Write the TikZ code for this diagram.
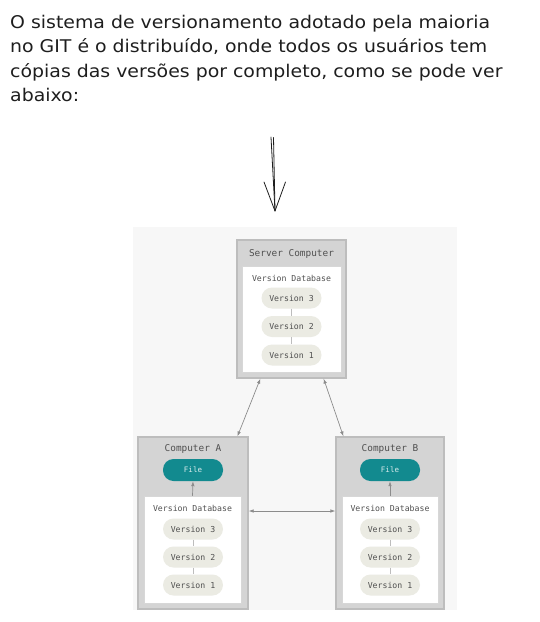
\documentclass[tikz,border=0pt]{standalone}
\usepackage{fontspec}
\setmonofont{DejaVu Sans Mono}
\newfontfamily\hand[FakeStretch=1.08]{DejaVu Sans}
\usetikzlibrary{arrows.meta,calc}
\definecolor{ink}{HTML}{1E1E1E}
\definecolor{panelbg}{HTML}{F7F7F7}
\definecolor{boxfill}{HTML}{D4D4D4}
\definecolor{boxline}{HTML}{BDBDBD}
\definecolor{pillfill}{HTML}{EBEBE3}
\definecolor{gtext}{HTML}{505050}
\definecolor{teal}{HTML}{128A8F}
\definecolor{conncol}{HTML}{8C8C8C}
\tikzset{
  handtext/.style={font=\hand\fontsize{17.5}{24}\selectfont, text=ink, anchor=base west, inner sep=0pt},
  outerbox/.style={draw=boxline, fill=boxfill, line width=1.2pt, inner sep=0pt},
  innerbox/.style={draw=boxline!60, fill=white, line width=0.5pt, inner sep=0pt, minimum width=97pt, minimum height=107pt},
  boxtitle/.style={font=\ttfamily\fontsize{9.4}{10}\selectfont, text=gtext, inner sep=0pt},
  dbtitle/.style={font=\ttfamily\fontsize{8.2}{9}\selectfont, text=gtext, inner sep=0pt},
  pill/.style={fill=pillfill, rounded corners=10.5pt, minimum width=60pt, minimum height=21pt, inner sep=0pt, font=\ttfamily\fontsize{8.2}{9}\selectfont, text=gtext},
  filepill/.style={fill=teal, rounded corners=10.5pt, minimum width=60pt, minimum height=22pt, inner sep=0pt, font=\ttfamily\fontsize{7.5}{9}\selectfont, text=white!85!teal},
  vlink/.style={draw=boxline, line width=0.6pt},
  conn/.style={draw=conncol, line width=0.7pt, {Latex[length=5pt,width=3.5pt]}-{Latex[length=5pt,width=3.5pt]}},
  conn1/.style={draw=conncol, line width=0.7pt, -{Latex[length=5pt,width=3.5pt]}},
  sketch/.style={draw=ink, line width=0.8pt, line cap=round, line join=round}
}
\begin{document}
\begin{tikzpicture}[x=1pt,y=-1pt]
\useasboundingbox (0,0) rectangle (539,622);
\fill[white] (0,0) rectangle (539,622);
% text
\node[handtext] (t1) at (10,28) {O sistema de versionamento adotado pela maioria};
\node[handtext] (t2) at (10,52.5) {no GIT é o distribuído, onde todos os usuários tem};
\node[handtext] (t3) at (10,77) {cópias das versões por completo, como se pode ver};
\node[handtext] (t4) at (10,101.5) {abaixo:};
% sketch arrow
\coordinate (aT1) at (271,137);
\coordinate (aT2) at (273.5,137.5);
\coordinate (aTip) at (275,211);
\coordinate (aL) at (264,182);
\coordinate (aR) at (285.5,182);
\draw[sketch] (aT1) -- (aTip);
\draw[sketch] (aT2) -- (aTip);
\draw[sketch] (aL) -- (aTip) -- (aR);
% panel
\node[fill=panelbg, minimum width=324pt, minimum height=383pt, inner sep=0pt] (panel) at (295,418.5) {};
% server
\node[outerbox, minimum width=109pt, minimum height=138pt] (srv) at (291.5,309) {};
\node[innerbox, minimum width=99pt, minimum height=106pt] (srvdb) at (291.5,319) {};
\node[boxtitle] (srvt) at (291.5,254) {Server Computer};
\node[dbtitle] (srvdbt) at (291.5,278.5) {Version Database};
\node[pill] (s3) at (291.5,298) {Version 3};
\node[pill] (s2) at (291.5,326.5) {Version 2};
\node[pill] (s1) at (291.5,355) {Version 1};
\draw[vlink] (s3) -- (s2);
\draw[vlink] (s2) -- (s1);
% computer A
\node[outerbox, minimum width=110pt, minimum height=172pt] (ca) at (193,523) {};
\node[innerbox] (cadb) at (192.5,549.5) {};
\node[boxtitle] (cat) at (193,449) {Computer A};
\node[filepill] (fa) at (193,470) {File};
\node[dbtitle] (cadbt) at (192.5,508.5) {Version Database};
\node[pill] (a3) at (193,529) {Version 3};
\node[pill] (a2) at (193,557) {Version 2};
\node[pill] (a1) at (193,585) {Version 1};
\draw[vlink] (a3) -- (a2);
\draw[vlink] (a2) -- (a1);
\draw[conn1] (cadb.north) -- (fa.south);
% computer B
\node[outerbox, minimum width=108pt, minimum height=172pt] (cb) at (390,523) {};
\node[innerbox, minimum width=96pt] (cbdb) at (390,549.5) {};
\node[boxtitle] (cbt) at (390,449) {Computer B};
\node[filepill] (fb) at (390,470) {File};
\node[dbtitle] (cbdbt) at (390,508.5) {Version Database};
\node[pill] (b3) at (390,529) {Version 3};
\node[pill] (b2) at (390,557) {Version 2};
\node[pill] (b1) at (390,585) {Version 1};
\draw[vlink] (b3) -- (b2);
\draw[vlink] (b2) -- (b1);
\draw[conn1] (cbdb.north) -- (fb.south);
% connections
\draw[conn] ([xshift=24pt]srv.south west) -- ([xshift=100pt]ca.north west);
\draw[conn] ([xshift=-23pt]srv.south east) -- ([xshift=8pt]cb.north west);
\draw[conn] ([yshift=12pt]ca.east) -- ([yshift=12pt]cb.west);
\end{tikzpicture}
\end{document}
